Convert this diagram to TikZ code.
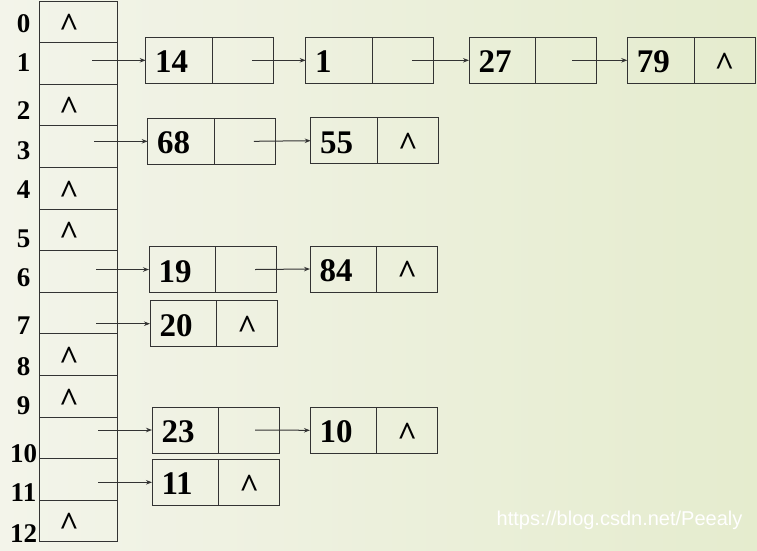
\documentclass[tikz,border=0pt]{standalone}
\usepackage{fontspec}
\setmainfont{Liberation Serif}
\newfontfamily\wmfont{Liberation Sans}
\usetikzlibrary{positioning,arrows.meta}

\definecolor{bgleft}{HTML}{F3F4EA}
\definecolor{bgright}{HTML}{E5ECCE}
\definecolor{boxline}{HTML}{333333}
\newcommand{\nil}{\textasciicircum}

\tikzset{
  cell/.style={draw=boxline,line width=1pt,minimum width=78pt,minimum height=41.6pt,inner sep=0pt,outer sep=0pt},
  datum/.style={draw=boxline,line width=1pt,minimum height=46pt,text width=47.7pt,inner xsep=9.5pt,inner ysep=0pt,
    outer sep=0pt,align=left,anchor=north west,font=\bfseries\fontsize{33}{33}\selectfont,text height=25pt,text depth=0pt},
  link/.style={draw=boxline,line width=1pt,minimum width=61pt,minimum height=46pt,inner sep=0pt,outer sep=0pt},
  nil/.style={font=\bfseries\fontsize{34}{34}\selectfont,text height=29.6pt,text depth=0pt,inner sep=0pt},
  idx/.style={font=\bfseries\fontsize{27}{27}\selectfont,inner sep=0pt},
  ptr/.style={-{Stealth[length=6pt,width=4.5pt]},line width=1pt,draw=boxline}
}

\begin{document}
\begin{tikzpicture}[x=1pt,y=-1pt]
\shade[left color=bgleft,right color=bgright] (0,0) rectangle (757,550);
\useasboundingbox (0,0) rectangle (757,550);

% hash table
\foreach \i in {0,...,12}
  \node[cell] (c\i) at (78,{1+41.6*\i+20.8}) {};
\foreach \i/\y in {0/24,1/63,2/111,3/151,4/190,5/238.5,6/278,7/326,8/367,9/406,10/454,11/493,12/534}
  \node[idx] (i\i) at (23.5,\y) {\i};
\foreach \i in {0,2,4,5,8,9,12}
  \node[nil] (h\i) at ([xshift=-9pt]c\i.center) {\nil};

% chains
\node[datum] (d14) at (145.7,37.3) {14};
\node[link,right=0pt of d14] (l14) {};
\node[datum] (d1) at (305.7,37.3) {1};
\node[link,right=0pt of d1] (l1) {};
\node[datum] (d27) at (469,37.3) {27};
\node[link,right=0pt of d27] (l27) {};
\node[datum] (d79) at (627.3,37.3) {79};
\node[link,nil,right=0pt of d79] (l79) {\nil};

\node[datum] (d68) at (147.7,118.3) {68};
\node[link,right=0pt of d68] (l68) {};
\node[datum] (d55) at (310.7,117.7) {55};
\node[link,nil,right=0pt of d55] (l55) {\nil};

\node[datum] (d19) at (149,246.5) {19};
\node[link,right=0pt of d19] (l19) {};
\node[datum] (d84) at (310,246) {84};
\node[link,nil,right=0pt of d84] (l84) {\nil};

\node[datum] (d20) at (150,300.7) {20};
\node[link,nil,right=0pt of d20] (l20) {\nil};

\node[datum] (d23) at (152,407) {23};
\node[link,right=0pt of d23] (l23) {};
\node[datum] (d10) at (310,407.3) {10};
\node[link,nil,right=0pt of d10] (l10) {\nil};

\node[datum] (d11) at (152,459.3) {11};
\node[link,nil,right=0pt of d11] (l11) {\nil};

% pointers
\draw[ptr] ([xshift=14pt]c1.center |- d14.west) -- (d14.west);
\draw[ptr] ([xshift=16pt]c3.center |- d68.west) -- (d68.west);
\draw[ptr] ([xshift=18pt]c6.center |- d19.west) -- (d19.west);
\draw[ptr] ([xshift=18pt]c7.center |- d20.west) -- (d20.west);
\draw[ptr] ([xshift=20pt]c10.center |- d23.west) -- (d23.west);
\draw[ptr] ([xshift=20pt]c11.center |- d11.west) -- (d11.west);
\draw[ptr] ([xshift=9pt]l14.center) -- (d1.west);
\draw[ptr] ([xshift=9pt]l1.center) -- (d27.west);
\draw[ptr] ([xshift=6pt]l27.center) -- (d79.west);
\draw[ptr] ([xshift=9pt]l68.center) -- (d55.west);
\draw[ptr] ([xshift=9pt]l19.center) -- (d84.west);
\draw[ptr] ([xshift=6pt]l23.center) -- (d10.west);

\node[font=\wmfont\fontsize{20}{20}\selectfont,text=white,inner sep=0pt] (wm) at (619.5,520) {https://blog.csdn.net/Peealy};
\end{tikzpicture}
\end{document}
